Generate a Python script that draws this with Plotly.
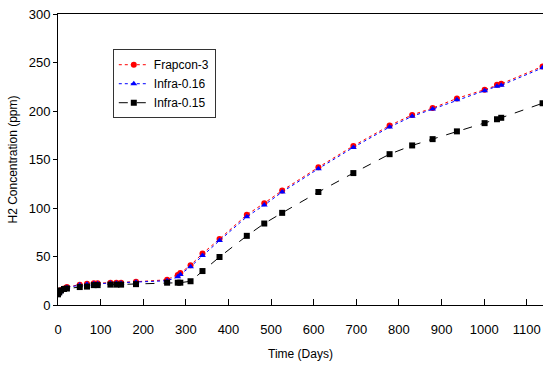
import plotly.graph_objects as go

days = [0, 3, 7, 14, 21, 51, 68, 84, 93, 123, 137, 148, 183, 256, 281, 287, 311,
        339, 379, 443, 484, 526, 611, 693, 778, 831, 879, 936, 1001, 1030, 1040, 1137]

frapcon3 = [11.5, 13.5, 15.5, 17, 18.5, 21, 22, 22.5, 22.5, 23, 23, 23, 24, 26, 31, 33, 41,
            53, 68, 93, 105, 118, 142, 164, 185, 196, 203, 213, 222, 227, 228, 246]

infra016 = [11, 13, 15, 16.5, 18, 20.5, 21.5, 22, 22, 22.5, 22.5, 22.5, 23.5, 25, 29, 31.5, 39.5,
            51, 66.5, 91, 103, 116.5, 140.5, 162.5, 183.5, 194.5, 202, 211.5, 221, 225.5, 226.5, 244.5]

infra015 = [11, 13, 15, 16.5, 17, 18.5, 19, 20.5, 20.5, 21, 21, 21, 21.5, 23, 23, 23, 24.5,
            35, 49.5, 71.3, 84, 95, 116.5, 136, 155.5, 164.5, 171, 179, 187.5, 191.5, 193, 208]

x_ticks = [0, 100, 200, 300, 400, 500, 600, 700, 800, 900, 1000, 1100]
y_ticks = [0, 50, 100, 150, 200, 250, 300]

FONT = "Liberation Sans, Arial, sans-serif"

fig = go.Figure()
fig.add_trace(go.Scatter(x=days, y=frapcon3, name="Frapcon-3", mode="lines+markers",
                         line=dict(color="#ff0000", width=1, dash="dot"),
                         marker=dict(symbol="circle", size=6, color="#ff0000")))
fig.add_trace(go.Scatter(x=days, y=infra016, name="Infra-0.16", mode="lines+markers",
                         line=dict(color="#0000ff", width=1, dash="dot"),
                         marker=dict(symbol="triangle-up", size=6, color="#0000ff")))
fig.add_trace(go.Scatter(x=days, y=infra015, name="Infra-0.15", mode="lines+markers",
                         line=dict(color="#000000", width=1, dash="dash"),
                         marker=dict(symbol="square", size=6, color="#000000")))

fig.update_layout(
    width=543, height=365,
    margin=dict(l=57.5, r=0, t=13.7, b=59.7),
    paper_bgcolor="white", plot_bgcolor="white",
    font=dict(family=FONT, size=12, color="black"),
    showlegend=True,
    legend=dict(x=0.113, y=0.879, xanchor="left", yanchor="top",
                bgcolor="white", bordercolor="#333333", borderwidth=1,
                font=dict(family=FONT, size=12), tracegroupgap=0,
                itemwidth=30),
    xaxis=dict(range=[0, 1138], tickvals=x_ticks, ticks="inside", ticklen=6,
               tickcolor="black", showline=True, linecolor="black", linewidth=1,
               mirror=True, showgrid=False, zeroline=False,
               ticklabelstandoff=12,
               tickfont=dict(family=FONT, size=13),
               title=dict(text="Time (Days)", font=dict(family=FONT, size=12), standoff=14)),
    yaxis=dict(range=[0, 300], tickvals=y_ticks, ticks="outside", ticklen=4,
               tickcolor="black", showline=True, linecolor="black", linewidth=1,
               showgrid=False, zeroline=False,
               tickfont=dict(family=FONT, size=13),
               title=dict(text="H2 Concentration (ppm)", font=dict(family=FONT, size=12), standoff=8)),
)

fig.write_html("out.html")
